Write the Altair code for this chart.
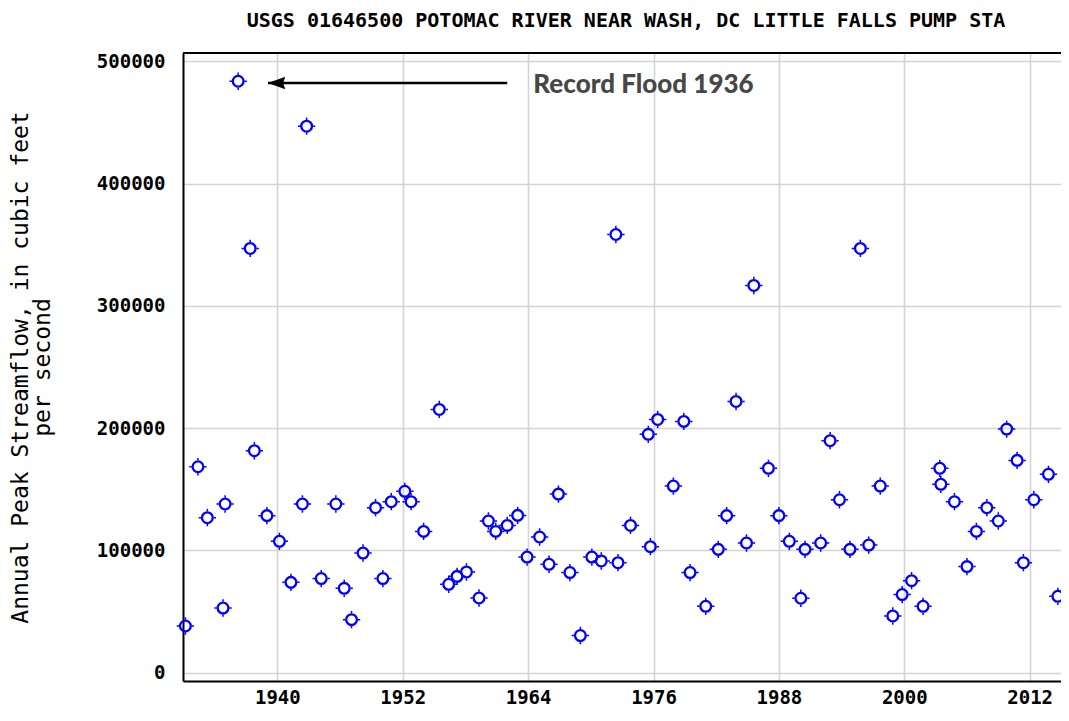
import altair as alt
import pandas as pd

# ---- data ----
years = [1931.2, 1932.4, 1933.3, 1934.8, 1935.0, 1936.25, 1937.4, 1937.8, 1939.0, 1940.2,
         1941.3, 1942.4, 1942.8, 1944.2, 1945.6, 1946.4, 1947.1, 1948.2, 1949.4, 1950.1,
         1950.9, 1952.2, 1952.8, 1954.0, 1955.5, 1956.4, 1957.2, 1958.1, 1959.3, 1960.2,
         1960.9, 1962.0, 1963.0, 1963.9, 1965.1, 1966.0, 1966.9, 1968.0, 1969.0, 1970.1,
         1971.0, 1972.4, 1972.6, 1973.8, 1975.5, 1975.7, 1976.4, 1977.9, 1978.9, 1979.5,
         1981.0, 1982.2, 1983.0, 1983.9, 1984.9, 1985.6, 1987.0, 1988.0, 1989.0, 1990.1,
         1990.5, 1992.0, 1992.9, 1993.8, 1994.8, 1995.8, 1996.6, 1997.7, 1998.9, 1999.8,
         2000.7, 2001.8, 2003.4, 2003.5, 2004.8, 2006.0, 2006.9, 2007.9, 2009.0, 2009.8,
         2010.8, 2011.4, 2012.4, 2013.8, 2014.7]
flows = [38100, 168400, 126700, 52800, 137900, 483800, 347000, 181500, 128400, 107400,
         73800, 137900, 447000, 76900, 137900, 68900, 43300, 97800, 134900, 76900,
         139800, 148300, 139800, 115500, 215300, 72200, 78700, 82300, 61000, 124000,
         115500, 120400, 128600, 94500, 110900, 88600, 146000, 81800, 30300, 94500,
         91300, 358400, 89900, 120400, 194900, 103000, 207100, 152600, 205500, 81800,
         54200, 100800, 128400, 221800, 106000, 316700, 167100, 128400, 107400, 60800,
         100800, 106000, 189700, 141400, 100800, 347000, 104300, 152600, 46300, 63800,
         75200, 54200, 167100, 154000, 139800, 86700, 115500, 134900, 124000, 199200,
         173600, 89900, 141400, 162200, 62400]

x_ticks = [1940, 1952, 1964, 1976, 1988, 2000, 2012]
y_ticks = [0, 100000, 200000, 300000, 400000, 500000]

title_text = ["USGS 01646500 POTOMAC RIVER NEAR WASH, DC LITTLE FALLS PUMP STA"]
y_title = ["Annual Peak Streamflow, in cubic feet", "per second"]

# annotation (data coordinates)
note_text = ["Record Flood 1936"]
note_x = [1964.5]
note_y = [474500]
arrow_tip_x = [1939.1]
arrow_end_x = [1962.0]
arrow_y = [482400]

x_domain = [1930.97, 2015.0]
y_domain = [-6900, 506900]

W, H = 878, 628

df = pd.DataFrame({"year": years, "flow": flows})

xs = alt.Scale(domain=x_domain, nice=False, zero=False)
ys = alt.Scale(domain=y_domain, nice=False, zero=False)

mono = "DejaVu Sans Mono"

base = alt.Chart(df).encode(
    x=alt.X("year:Q", scale=xs,
            axis=alt.Axis(values=x_ticks, format="d", title=None, labelFont=mono,
                          labelFontWeight="bold", labelFontSize=19, labelColor="#000000",
                          labelPadding=7, ticks=False, grid=True, gridColor="#d4d4d4",
                          gridWidth=1.6, domainColor="#000000", domainWidth=2,
                          labelFlush=False)),
    y=alt.Y("flow:Q", scale=ys,
            axis=alt.Axis(values=y_ticks, format="d", title=y_title, labelFont=mono,
                          labelFontWeight="bold", labelFontSize=19, labelColor="#000000",
                          labelPadding=18, ticks=False, grid=True, gridColor="#d4d4d4",
                          gridWidth=1.6, domainColor="#000000", domainWidth=2,
                          titleFont=mono, titleFontSize=23, titleFontWeight="normal",
                          titleColor="#000000", titleAngle=270, titleX=-151, titleY=314,
                          titleAlign="center", titleBaseline="bottom", titleLineHeight=22,
                          labelFlush=False)),
)

rings = base.mark_point(
    shape="circle", filled=False, size=115, strokeWidth=2.3, color="#0000ff", opacity=1
)
nubs = base.mark_point(
    shape="M-1,0L-0.72,0M0.72,0L1,0M0,-1L0,-0.72M0,0.72L0,1",
    filled=False, size=300, strokeWidth=1.5, color="#0000ff", opacity=1
)

ann_df = pd.DataFrame({"tx": arrow_tip_x, "ex": arrow_end_x, "ay": arrow_y})

arrow_line = alt.Chart(ann_df).mark_rule(color="#000000", strokeWidth=2.5).encode(
    x=alt.X("tx:Q", scale=xs), x2="ex:Q", y=alt.Y("ay:Q", scale=ys)
)
arrow_head = alt.Chart(ann_df).mark_point(
    shape="M0,0 L2,-0.72 L1.75,0 L2,0.72 Z", size=300, filled=True, color="#000000", opacity=1
).encode(x=alt.X("tx:Q", scale=xs), y=alt.Y("ay:Q", scale=ys))

note_df = pd.DataFrame({"nx": note_x, "ny": note_y, "t": note_text})
note = alt.Chart(note_df).mark_text(
    font="Lato", fontWeight=900, fontSize=26, color="#474747", align="left",
    baseline="alphabetic"
).encode(x=alt.X("nx:Q", scale=xs), y=alt.Y("ny:Q", scale=ys), text="t:N")

title_df = pd.DataFrame({"t": title_text})
title = alt.Chart(title_df).mark_text(
    font=mono, fontWeight="bold", fontSize=20, color="#000000", align="center",
    baseline="alphabetic"
).encode(x=alt.value(W / 2 + 4), y=alt.value(-26), text="t:N")

top_border = alt.Chart(ann_df).mark_rule(color="#000000", strokeWidth=2).encode(
    x=alt.value(0), x2=alt.value(W), y=alt.value(0)
)

chart = alt.layer(rings, nubs, arrow_line, arrow_head, note, title, top_border).properties(
    width=W, height=H,
    autosize=alt.AutoSizeParams(type="none"),
    padding={"left": 175, "top": 45, "right": 0, "bottom": 25},
).configure_view(stroke=None).configure(background="#ffffff")

chart.save("out.html", embed_options={"renderer": "svg", "actions": False})
